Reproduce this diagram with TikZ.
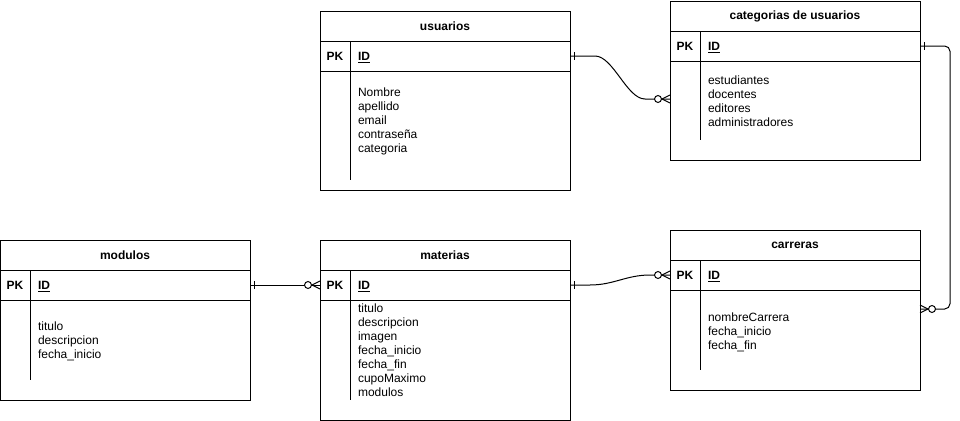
\documentclass[tikz,border=0pt]{standalone}
\usepackage{fontspec}
\setmainfont{Liberation Sans}
\usetikzlibrary{positioning, calc, decorations.markings}

% name, corner, title, body height, divider length, text offset, fields
\newcommand{\erentity}[7]{%
  \node[ertitle, anchor=north west] (#1) at (#2) {#3};
  \node[erpk, anchor=north west] (#1pk) at (#1.south west) {PK};
  \node[erid, right=0pt of #1pk] (#1id) {\underline{ID}};
  \node[erbody, minimum height=#4, anchor=north west] (#1body) at (#1pk.south west) {};
  \draw (#1pk.south east) -- ++(0,#5);
  \node[erfields, anchor=north west] (#1fields) at ($(#1pk.south east)+(8,#6)$) {#7};
}

\begin{document}
\begin{tikzpicture}[
  x=0.75pt, y=-0.75pt,
  line width=0.75pt,
  every node/.style={outer sep=0pt, font=\fontsize{9pt}{10.5pt}\selectfont},
  ertitle/.style={draw, minimum width=187.5pt, minimum height=22.5pt, inner sep=0pt,
    font=\fontsize{9pt}{10.5pt}\selectfont\bfseries},
  erpk/.style={draw, minimum width=22.5pt, minimum height=22.5pt, inner sep=0pt,
    text height=6.5pt, text depth=0pt, font=\fontsize{9pt}{10.5pt}\selectfont\bfseries},
  erid/.style={draw, text width=153pt, inner xsep=6pt, inner ysep=0pt, align=left,
    minimum height=22.5pt, text height=6.5pt, text depth=0pt,
    font=\fontsize{9pt}{10.5pt}\selectfont\bfseries},
  erbody/.style={draw, minimum width=187.5pt, inner sep=0pt},
  erfields/.style={inner sep=0pt, align=left},
  one/.style={postaction={decorate, decoration={markings,
    mark=at position 0 with {\draw (4,-4) -- (4,4);}}}},
  zeromany/.style={postaction={decorate, decoration={markings,
    mark=at position 1 with {\draw (-8,0) -- (0,-4) (-8,0) -- (0,4);
      \draw[fill=white] (-12,0) circle[radius=2.6pt];}}}}
]
\useasboundingbox (0,0) rectangle (960,421);

\erentity{usuarios}{320,11}{usuarios}{89.25pt}{109}{17}%
  {Nombre\\apellido\\email\\contraseña\\categoria}
\erentity{categorias}{670,1}{categorias de usuarios}{74.25pt}{79}{15}%
  {estudiantes\\docentes\\editores\\administradores}
\erentity{carreras}{670,230}{carreras}{75pt}{80}{22.5}%
  {nombreCarrera\\fecha\_inicio\\fecha\_fin}
\erentity{modulos}{0,240}{modulos}{75pt}{80}{22}%
  {titulo\\descripcion\\fecha\_inicio}
\erentity{materias}{320,240}{materias}{90pt}{100}{4}%
  {titulo\\descripcion\\imagen\\fecha\_inicio\\fecha\_fin\\cupoMaximo\\modulos}

\coordinate (catin) at ($(categoriasbody.north west)+(0,38)$);
\coordinate (carin) at ($(carrerasbody.north east)+(0,19)$);

\draw[one, zeromany] (usuariosid.east) -- ++(25,0)
  to[out=0, in=180, looseness=0.7] ($(catin)+(-25,0)$) -- (catin);
\draw[one, zeromany, rounded corners=4pt] (categoriasid.east)
  -| ($(carin)+(30,0)$) -- (carin);
\draw[one, zeromany] (materiasid.east) -- ++(20,0)
  to[out=0, in=180] ($(carreraspk.west)+(-20,0)$) -- (carreraspk.west);
\draw[one, zeromany] (modulosid.east) -- (materiaspk.west);
\end{tikzpicture}
\end{document}
